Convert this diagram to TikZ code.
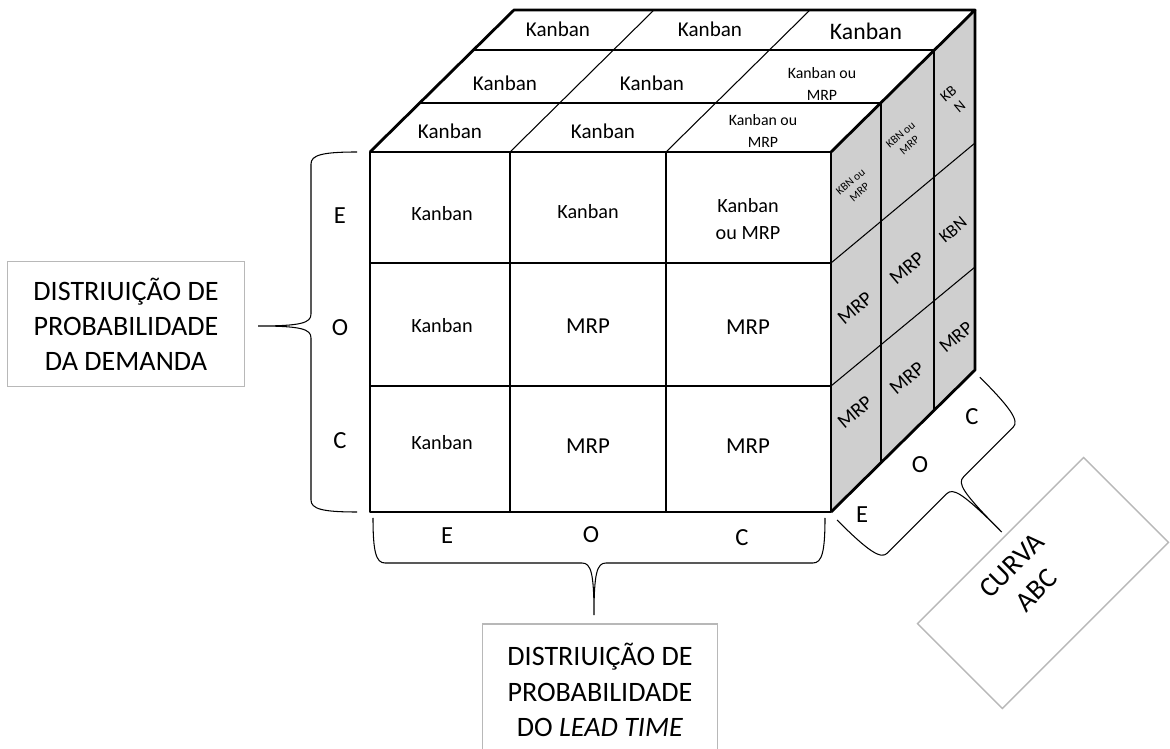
\documentclass[tikz,border=0pt]{standalone}
\usepackage{fontspec}
\setmainfont{Carlito}
\usetikzlibrary{calc}
\tikzset{
  cubeedge/.style={line width=1.6pt,line join=round},
  divline/.style={line width=0.6pt},
  brk/.style={line width=0.6pt},
  cell/.style={font=\fontsize{11.5}{15}\selectfont,align=center},
  cellbig/.style={font=\fontsize{13}{15}\selectfont},
  topcell/.style={font=\fontsize{12}{14}\selectfont},
  cellsm/.style={font=\fontsize{9}{12.5}\selectfont,align=center},
  sidecell/.style={font=\fontsize{11.5}{13}\selectfont,align=center,rotate=40},
  sidesm/.style={font=\fontsize{6.5}{8}\selectfont,align=center,rotate=40},
  classlbl/.style={font=\fontsize{14}{16}\selectfont},
  infobox/.style={draw=black!28,line width=0.8pt,fill=white,align=center,
                  font=\fontsize{16}{20}\selectfont,inner sep=0pt},
  pics/curly/.style n args={4}{code={
    \draw[brk] (0,0) .. controls (0,{0.75*#2}) and (3,#2) .. (12,#2)
      -- ({#4-12},#2) .. controls ({#4-3},#2) and (#4,{#2+10}) .. (#4,#3)
      .. controls (#4,{#2+10}) and ({#4+3},#2) .. ({#4+12},#2)
      -- ({#1-12},#2) .. controls ({#1-3},#2) and (#1,{0.75*#2}) .. (#1,0);
  }},
}
\begin{document}
\begin{tikzpicture}[x=0.02cm,y=-0.02cm]
  \useasboundingbox (0,0) rectangle (1170,749);
  % cube corners
  \coordinate (ftl) at (370,152);
  \coordinate (ftr) at (831,152);
  \coordinate (fbl) at (370,512);
  \coordinate (fbr) at (831,512);
  \coordinate (btl) at (514,10);
  \coordinate (btr) at (975,10);
  \coordinate (bbr) at (975,370);
  % right face
  \fill[gray!38] (ftr) -- (btr) -- (bbr) -- (fbr) -- cycle;
  % grid of the front face
  \draw[divline] (510,152) -- (510,512);
  \draw[divline] (666,152) -- (666,512);
  \draw[divline] (370,263) -- (831,263);
  \draw[divline] (370,386) -- (831,386);
  % grid of the top face
  \draw[divline] (420,103) -- (881,103);
  \draw[divline] (473,50) -- (934,50);
  \draw[divline] (510,152) -- (654,10);
  \draw[divline] (666,152) -- (810,10);
  % grid of the right face
  \draw[divline] (881,103) -- (881,463);
  \draw[divline] (934,50) -- (934,410);
  \draw[divline] (831,263) -- (975,143);
  \draw[divline] (831,386) -- (975,267);
  % outline
  \draw[cubeedge] (ftl) rectangle (fbr);
  \draw[cubeedge] (ftl) -- (btl) -- (btr) -- (ftr);
  \draw[cubeedge] (btr) -- (bbr) -- (fbr);

  % front face
  \node[cell]    (f11) at (442,214) {Kanban};
  \node[cell]    (f12) at (588,212) {Kanban};
  \node[cell]    (f13) at (748,219) {Kanban\\ou MRP};
  \node[cell]    (f21) at (442,326) {Kanban};
  \node[cellbig] (f22) at (588,326) {MRP};
  \node[cellbig] (f23) at (748,327) {MRP};
  \node[cell]    (f31) at (442,443) {Kanban};
  \node[cellbig] (f32) at (588,446) {MRP};
  \node[cellbig] (f33) at (748,446) {MRP};
  % top face
  \node[topcell] (t11) at (558,29) {Kanban};
  \node[topcell] (t12) at (710,29) {Kanban};
  \node[font=\fontsize{13.5}{15}\selectfont] (t13) at (866,31) {Kanban};
  \node[topcell] (t21) at (505,83) {Kanban};
  \node[topcell] (t22) at (652,83) {Kanban};
  \node[cellsm]  (t23) at (822,84) {Kanban ou\\MRP};
  \node[topcell] (t31) at (450,131) {Kanban};
  \node[topcell] (t32) at (603,131) {Kanban};
  \node[cellsm]  (t33) at (763,131) {Kanban ou\\MRP};
  % right face
  \node[sidesm]   (r11) at (855,187) {KBN ou\\MRP};
  \node[sidesm]   (r12) at (905,140) {KBN ou\\MRP};
  \node[sidecell,font=\fontsize{8.5}{10}\selectfont] (r13) at (954,100) {KB\\N};
  \node[sidecell] (r21) at (855,308) {MRP};
  \node[sidecell] (r22) at (907,268) {MRP};
  \node[sidecell,font=\fontsize{10}{12}\selectfont] (r23) at (953,230) {KBN};
  \node[sidecell] (r31) at (855,412) {MRP};
  \node[sidecell] (r32) at (907,378) {MRP};
  \node[sidecell,font=\fontsize{11}{12}\selectfont] (r33) at (956,337) {MRP};

  % classes along the three axes
  \node[classlbl] (dE) at (340,216) {E};
  \node[classlbl] (dO) at (340,328) {O};
  \node[classlbl] (dC) at (340,441) {C};
  \node[classlbl] (lE) at (447,536) {E};
  \node[classlbl] (lO) at (591,535) {O};
  \node[classlbl] (lC) at (742,538) {C};
  \node[classlbl] (aE) at (862,515) {E};
  \node[classlbl] (aO) at (920,465) {O};
  \node[classlbl] (aC) at (972,417) {C};

  % boxes
  \node[infobox,minimum width=4.74cm,minimum height=2.5cm] (demand) at (126,324)
    {DISTRIUIÇÃO DE\\PROBABILIDADE\\DA DEMANDA};
  \node[infobox,minimum width=4.7cm,minimum height=2.64cm] (leadtime) at (600,690)
    {DISTRIUIÇÃO DE\\PROBABILIDADE\\DO \textit{LEAD TIME}};
  \node[infobox,minimum width=4.7cm,minimum height=2.4cm,rotate=45] (curva) at (1043,583) {};
  \node[rotate=45,align=center,font=\fontsize{16}{20}\selectfont] (curvatxt)
    at ($(curva.center)+(-19,-5)$) {CURVA\\ABC};

  % braces
  \coordinate (dembr) at (357,152);
  \coordinate (leadbr) at (373,518);
  \coordinate (abcbr) at (837,520);
  \pic[rotate=-90] at (dembr) {curly={360}{46}{99}{174}};
  \pic at (leadbr) {curly={452}{45}{97}{221}};
  \pic[rotate=45] at (abcbr) {curly={202}{59}{125}{108}};
\end{tikzpicture}
\end{document}
